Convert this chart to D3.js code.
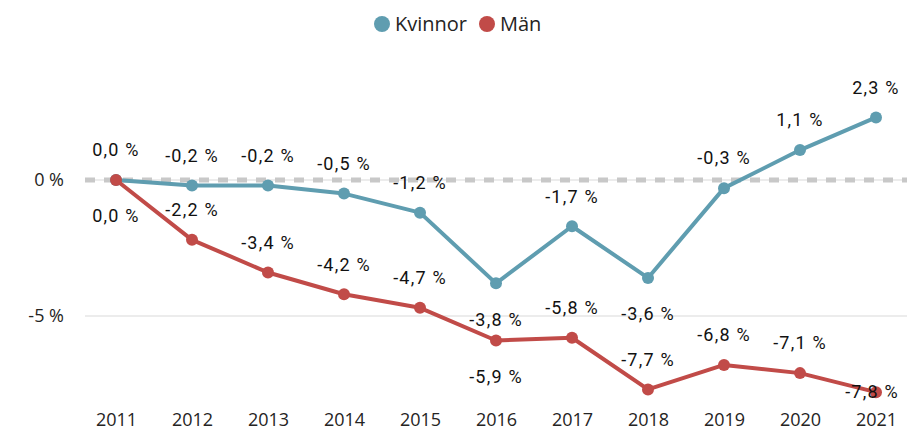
<!DOCTYPE html>
<html>
  <head>
    <meta charset="utf-8" />
    <script src="https://d3js.org/d3.v7.min.js"></script>
    <style>
      body { margin: 0; background: #fff; }
    </style>
  </head>
  <body>
    <svg width="907" height="431"></svg>

    <script type="text/javascript">
      // data
      var years = [2011, 2012, 2013, 2014, 2015, 2016, 2017, 2018, 2019, 2020, 2021];
      var kvinnor = [0.0, -0.2, -0.2, -0.5, -1.2, -3.8, -1.7, -3.6, -0.3, 1.1, 2.3];
      var man = [0.0, -2.2, -3.4, -4.2, -4.7, -5.9, -5.8, -7.7, -6.8, -7.1, -7.8];
      // label above (1) / below (-1) / on point (0)
      var kvinnorPos = [1, 1, 1, 1, 1, -1, 1, -1, 1, 1, 1];
      var manPos = [-1, 1, 1, 1, 1, -1, 1, 1, 1, 1, 0];
      var yTicks = [0, -5];
      var seriesNames = ["Kvinnor", "Män"];
      var colors = ["#5f9db0", "#c14b48"];

      var svg = d3.select("svg");

      var xScale = d3.scalePoint().domain(years).range([116, 876]);
      var yScale = d3.scaleLinear().domain([-5, 0]).range([316, 180]);

      function fmt(v) {
        return v.toFixed(1).replace(".", ",") + " %";
      }

      // gridlines
      svg.append("g")
        .selectAll("line")
        .data(yTicks)
        .enter()
        .append("line")
        .attr("x1", 85)
        .attr("x2", 907)
        .attr("y1", function (d) { return yScale(d); })
        .attr("y2", function (d) { return yScale(d); })
        .attr("stroke", "#e6e6e6")
        .attr("stroke-width", 1.5);

      // dashed zero line
      svg.append("line")
        .attr("x1", 85)
        .attr("x2", 907)
        .attr("y1", yScale(0))
        .attr("y2", yScale(0))
        .attr("stroke", "#c8c8c8")
        .attr("stroke-width", 5)
        .attr("stroke-dasharray", "10,9");

      // y axis labels
      svg.append("g")
        .selectAll("text")
        .data(yTicks)
        .enter()
        .append("text")
        .attr("x", 64)
        .attr("y", function (d) { return yScale(d); })
        .attr("dy", "0.35em")
        .attr("text-anchor", "end")
        .style("font-family", "'Open Sans', sans-serif")
        .style("font-size", "18px")
        .attr("fill", "#252423")
        .text(function (d) { return d + " %"; });

      // x axis
      var xAxis = svg.append("g")
        .attr("transform", "translate(0,408)")
        .call(d3.axisBottom(xScale).tickSize(0).tickPadding(5));
      xAxis.select(".domain").remove();
      xAxis.selectAll("text")
        .style("font-family", "'Open Sans', sans-serif")
        .style("font-size", "18px")
        .attr("fill", "#252423");

      var series = [
        { name: seriesNames[0], values: kvinnor, pos: kvinnorPos, color: colors[0] },
        { name: seriesNames[1], values: man, pos: manPos, color: colors[1] }
      ];

      var line = d3.line()
        .x(function (d, i) { return xScale(years[i]); })
        .y(function (d) { return yScale(d); });

      series.forEach(function (s) {
        var g = svg.append("g");
        g.append("path")
          .attr("fill", "none")
          .attr("stroke", s.color)
          .attr("stroke-width", 4)
          .attr("stroke-linejoin", "round")
          .attr("d", line(s.values));
        g.selectAll("circle")
          .data(s.values)
          .enter()
          .append("circle")
          .attr("cx", function (d, i) { return xScale(years[i]); })
          .attr("cy", function (d) { return yScale(d); })
          .attr("r", 6)
          .attr("fill", s.color);
      });

      // data labels
      series.forEach(function (s) {
        svg.append("g")
          .selectAll("text")
          .data(s.values)
          .enter()
          .append("text")
          .attr("x", function (d, i) { return xScale(years[i]) + (s.pos[i] === 0 ? -4 : 0); })
          .attr("y", function (d, i) {
            var p = s.pos[i];
            return yScale(d) + (p === 1 ? -30 : p === -1 ? 36 : 0);
          })
          .attr("dy", "0.35em")
          .attr("text-anchor", "middle")
          .style("font-family", "Roboto, sans-serif")
          .style("font-size", "18px")
          .style("letter-spacing", "1.2px")
          .attr("fill", "#111")
          .text(function (d) { return fmt(d); });
      });

      // legend
      var legend = svg.append("g");
      var lx = [382, 487];
      series.forEach(function (s, i) {
        legend.append("circle")
          .attr("cx", lx[i])
          .attr("cy", 24)
          .attr("r", 8)
          .attr("fill", s.color);
        legend.append("text")
          .attr("x", lx[i] + 13)
          .attr("y", 24)
          .attr("dy", "0.35em")
          .style("font-family", "'Open Sans', sans-serif")
          .style("font-size", "20px")
          .attr("fill", "#252423")
          .text(s.name);
      });
    </script>
  </body>
</html>
